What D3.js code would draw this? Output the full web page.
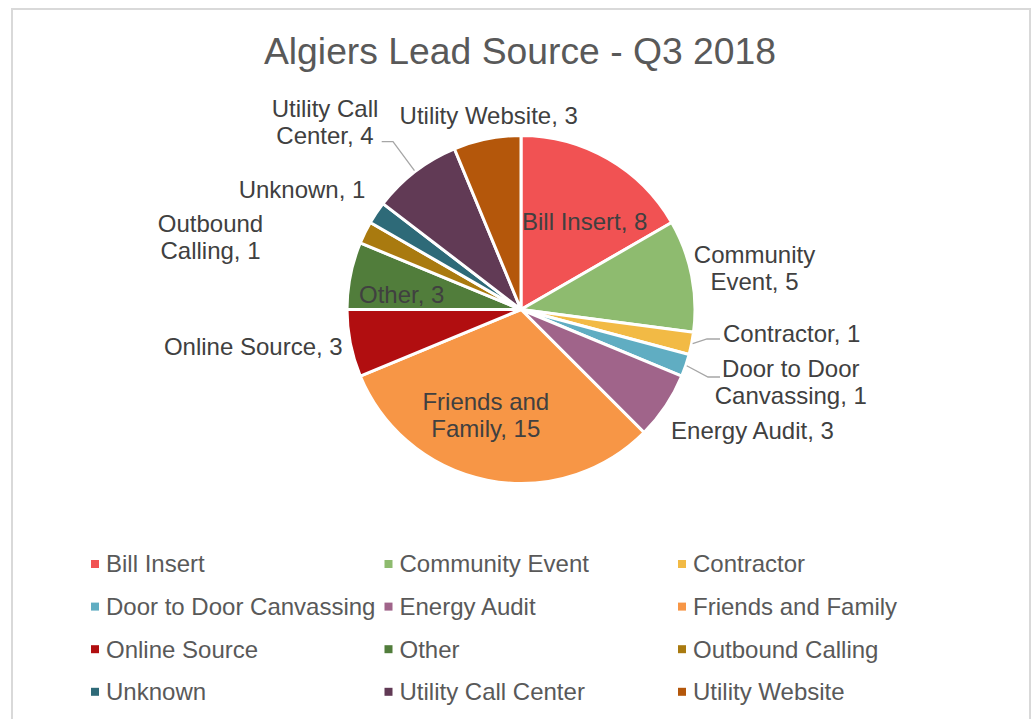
<!DOCTYPE html>
<html><head><meta charset="utf-8">
<script src="https://cdn.jsdelivr.net/npm/d3@7"></script>
<style>
html,body{margin:0;padding:0;background:#fff;}
svg{display:block;font-family:"Liberation Sans",Arial,sans-serif;}
</style></head>
<body><svg id="chart" width="1032" height="719"></svg>
<script>
// ---- data ----
const categories = ["Bill Insert","Community Event","Contractor","Door to Door Canvassing","Energy Audit","Friends and Family","Online Source","Other","Outbound Calling","Unknown","Utility Call Center","Utility Website"];
const values = [8,5,1,1,3,15,3,3,1,1,4,3];
const colors = ["#F15253","#8EBB6F","#F2BA45","#60ADC2","#A0648A","#F79646","#B10E10","#517D3B","#A97A0F","#2E6A78","#613A55","#B4570B"];
const labelLines = [["Bill Insert, 8"],["Community","Event, 5"],["Contractor, 1"],["Door to Door","Canvassing, 1"],["Energy Audit, 3"],["Friends and","Family, 15"],["Online Source, 3"],["Other, 3"],["Outbound","Calling, 1"],["Unknown, 1"],["Utility Call","Center, 4"],["Utility Website, 3"]];
const title = "Algiers Lead Source - Q3 2018";

// ---- layout (label anchors relative to pie centre) ----
const labelPos = [[63.7,-79.5],[233.5,-46.2],[270.7,32.2],[269.8,67.8],[231.5,129.8],[-35.2,100.5],[-267.7,45.5],[-119.3,-6.2],[-310.5,-77.8],[-219,-111.2],[-196,-192.8],[-32.3,-185.2]];
// leader: [end x, end y, knee direction] relative to centre
const leaders = {2:[199,29.5,-13], 3:[199,67.5,-12], 10:[-139.3,-167.8,11.3]};

const svg = d3.select("#chart");
const cx = 521, cy = 309.5, R = 174;

svg.append("rect").attr("x",12).attr("y",9).attr("width",1018).attr("height",800)
  .attr("fill","#fff").attr("stroke","#d9d9d9").attr("stroke-width",2);

svg.append("text").attr("x",520).attr("y",64).attr("text-anchor","middle")
  .attr("font-size","37.3px").attr("fill","#595959").text(title);

const pie = d3.pie().sort(null).value(d=>d)(values);
const arc = d3.arc().innerRadius(0).outerRadius(R);
const g = svg.append("g").attr("transform",`translate(${cx},${cy})`);

g.selectAll("path.slice").data(pie).join("path").attr("class","slice")
  .attr("d",arc).attr("fill",(d,i)=>colors[i])
  .attr("stroke","#fff").attr("stroke-width",3).attr("stroke-linejoin","round");

// leader lines
pie.forEach((d,i)=>{
  if(!leaders[i]) return;
  const a = (d.startAngle+d.endAngle)/2;
  const sx = 175*Math.sin(a), sy = -175*Math.cos(a);
  const [ex,ey,k] = leaders[i];
  g.append("polyline").attr("points",`${sx},${sy} ${ex+k},${ey} ${ex},${ey}`)
    .attr("fill","none").attr("stroke","#a6a6a6").attr("stroke-width",1.3);
});

// labels
g.selectAll("text.lbl").data(pie).join("text").attr("class","lbl")
  .attr("text-anchor","middle").attr("font-size","24px").attr("fill","#404040")
  .each(function(d,i){
    const t = d3.select(this);
    labelLines[i].forEach((ln,j)=>{
      t.append("tspan").attr("x",labelPos[i][0]).attr("y",labelPos[i][1]+j*27).text(ln);
    });
  });

// legend
const colX = [91,384.5,678], rowY = [564,606.6,649.2,691.8];
const lg = svg.append("g");
categories.forEach((c,i)=>{
  const col = i%3, row = Math.floor(i/3);
  lg.append("rect").attr("x",colX[col]).attr("y",rowY[row]-4).attr("width",8).attr("height",8).attr("fill",colors[i]);
  lg.append("text").attr("x",colX[col]+15).attr("y",rowY[row]+8.4).attr("font-size","24px").attr("fill","#595959").text(c);
});
</script></body></html>
